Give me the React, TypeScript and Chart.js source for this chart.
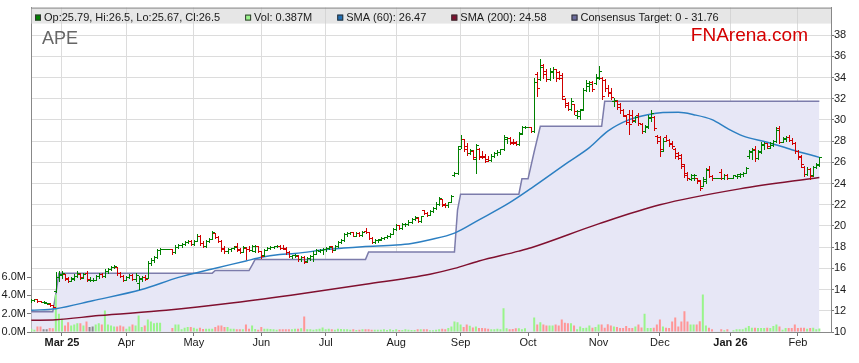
import React, { useEffect, useRef } from 'react';
import { Chart, registerables } from 'chart.js';

Chart.register(...registerables);

const FONT = '"Liberation Sans", Arial, Helvetica, sans-serif';

// x index = weekday number, 0 = Mon 17 Feb 2025 (weekday holidays kept as flat bars)
const MONTH_TICK_INDEX = [10, 31, 53, 75, 96, 119, 140, 162, 185, 205, 228, 250];
const MONTH_TICK_LABELS = ['Mar 25', 'Apr', 'May', 'Jun', 'Jul', 'Aug', 'Sep', 'Oct', 'Nov', 'Dec', 'Jan 26', 'Feb'];
const PRICE_TICKS = [10, 12, 14, 16, 18, 20, 22, 24, 26, 28, 30, 32, 34, 36, 38];
const VOLUME_TICKS = [0, 2, 4, 6];

// [open, high, low, close]
const PRICE_OHLC: [number, number, number, number][] = [
  [12.9, 13.1, 12.85, 13.0], [13.0, 13.15, 12.95, 13.1], [13.1, 13.1, 12.85, 12.9], [12.9, 12.95, 12.8, 12.85], [12.8, 12.9, 12.7, 12.8],
  [12.7, 12.75, 12.6, 12.7], [12.65, 12.7, 12.45, 12.5], [12.5, 12.55, 12.35, 12.4], [13.9, 15.7, 13.8, 15.2], [15.2, 15.75, 14.85, 15.5],
  [15.4, 15.8, 15.1, 15.6], [15.45, 15.5, 14.9, 15.0], [15.1, 15.15, 14.7, 14.8], [14.85, 15.2, 14.8, 15.1], [15.0, 15.45, 14.9, 15.3],
  [15.3, 15.75, 15.2, 15.6], [15.5, 15.55, 15.0, 15.15], [15.1, 15.6, 15.05, 15.5], [15.6, 15.8, 14.85, 15.0], [14.95, 15.2, 14.8, 14.95],
  [14.95, 15.1, 14.85, 14.95], [14.95, 15.4, 14.9, 15.3], [15.3, 15.6, 15.1, 15.5], [15.5, 15.55, 15.15, 15.25], [15.25, 15.9, 15.2, 15.8],
  [15.8, 16.05, 15.6, 15.9], [15.9, 16.2, 15.85, 16.1], [16.1, 16.3, 16.0, 16.2], [16.1, 16.15, 15.4, 15.6], [15.6, 15.7, 15.2, 15.3],
  [15.3, 15.35, 14.85, 14.95], [14.95, 15.3, 14.9, 15.2], [15.2, 15.5, 15.1, 15.4], [15.4, 15.45, 14.9, 15.0], [15.0, 15.55, 14.8, 15.4],
  [14.6, 15.25, 14.05, 15.1], [15.0, 15.3, 14.85, 15.2], [15.2, 15.35, 14.9, 15.0], [15.1, 16.7, 15.05, 16.5], [16.5, 17.0, 16.3, 16.8],
  [16.8, 17.2, 16.6, 17.1], [17.1, 17.8, 17.0, 17.7], [17.7, 17.95, 17.4, 17.8], [17.8, 17.8, 17.8, 17.8], [17.8, 17.8, 17.8, 17.8],
  [17.8, 17.8, 17.8, 17.8], [17.8, 17.85, 17.4, 17.5], [17.5, 18.2, 17.45, 18.0], [18.0, 18.3, 17.9, 18.2], [18.2, 18.4, 18.0, 18.3],
  [18.3, 18.55, 18.2, 18.5], [18.5, 18.65, 18.35, 18.55], [18.6, 18.65, 18.2, 18.3], [18.3, 18.7, 18.25, 18.6], [18.6, 19.2, 18.55, 19.1],
  [19.1, 19.15, 18.2, 18.4], [18.4, 18.6, 18.0, 18.1], [18.1, 18.7, 18.0, 18.6], [18.6, 18.9, 18.5, 18.8], [18.8, 19.5, 18.75, 19.4],
  [19.3, 19.35, 18.85, 18.95], [19.0, 19.1, 18.5, 18.6], [18.6, 18.65, 17.6, 17.8], [17.9, 18.1, 17.45, 17.6], [17.6, 17.9, 17.45, 17.8],
  [17.8, 17.95, 17.6, 17.9], [17.9, 18.1, 17.8, 18.0], [18.1, 18.35, 17.6, 17.7], [17.8, 17.9, 17.45, 17.55], [17.55, 18.1, 17.5, 18.0],
  [17.95, 18.0, 16.85, 17.85], [17.85, 18.1, 17.6, 17.7], [17.7, 18.2, 17.6, 18.1], [17.6, 18.25, 17.5, 18.15], [18.1, 18.15, 17.5, 17.6],
  [17.6, 17.65, 17.0, 17.2], [17.3, 17.85, 17.2, 17.75], [17.75, 18.0, 17.7, 17.9], [17.9, 18.1, 17.8, 18.0], [18.0, 18.15, 17.9, 18.1],
  [18.1, 18.25, 18.0, 18.15], [18.1, 18.2, 17.8, 17.9], [17.95, 18.25, 17.8, 17.85], [17.9, 18.05, 17.4, 17.55], [17.55, 17.6, 17.1, 17.2],
  [17.2, 17.3, 17.0, 17.25], [17.25, 17.35, 17.1, 17.3], [17.2, 17.25, 16.7, 16.9], [16.9, 17.2, 16.7, 17.1], [17.1, 17.15, 16.5, 16.65],
  [16.7, 17.1, 16.65, 17.0], [17.0, 17.3, 16.8, 17.2], [17.2, 17.6, 16.7, 17.4], [17.4, 17.8, 17.35, 17.7], [17.6, 17.8, 17.5, 17.75],
  [17.7, 17.9, 17.4, 17.8], [17.8, 18.0, 17.6, 17.95], [17.95, 18.1, 17.8, 18.05], [18.1, 18.15, 17.55, 17.75], [17.75, 18.2, 17.7, 18.1],
  [18.1, 18.6, 18.05, 18.5], [18.5, 18.8, 18.4, 18.7], [18.7, 19.3, 18.6, 19.2], [19.2, 19.45, 19.1, 19.35], [19.3, 19.45, 19.2, 19.4],
  [19.4, 19.45, 19.05, 19.1], [19.1, 19.45, 19.05, 19.35], [19.35, 19.45, 19.05, 19.15], [19.15, 19.55, 19.1, 19.4], [19.5, 19.8, 19.35, 19.45],
  [19.4, 19.45, 18.8, 18.9], [18.9, 18.95, 18.35, 18.45], [18.45, 18.75, 18.4, 18.7], [18.7, 18.8, 18.5, 18.75], [18.7, 19.0, 18.65, 18.9],
  [18.9, 19.0, 18.8, 18.95], [18.95, 19.15, 18.85, 19.1], [19.1, 19.3, 19.0, 19.25], [19.25, 19.8, 19.2, 19.7], [19.7, 20.15, 19.6, 20.05],
  [20.05, 20.1, 19.7, 19.8], [19.8, 20.25, 19.75, 20.15], [20.15, 20.3, 20.0, 20.2], [20.2, 20.55, 20.1, 20.4], [20.4, 20.75, 20.3, 20.7],
  [20.7, 20.9, 20.6, 20.85], [20.8, 20.85, 20.35, 20.45], [20.45, 20.95, 20.4, 20.9], [21.5, 21.55, 21.1, 21.2], [21.2, 21.3, 20.95, 21.05],
  [21.05, 21.5, 21.0, 21.4], [21.4, 21.8, 21.3, 21.7], [21.7, 22.25, 21.6, 22.1], [22.1, 22.7, 22.0, 22.6], [22.5, 22.55, 21.9, 22.0],
  [22.1, 22.2, 21.8, 21.95], [21.95, 22.3, 21.8, 22.25], [22.3, 22.9, 22.3, 22.85], [24.8, 25.1, 24.7, 25.0], [25.0, 27.5, 24.9, 27.3],
  [27.5, 28.55, 27.4, 28.2], [28.2, 28.25, 27.1, 27.3], [27.5, 27.8, 26.7, 26.9], [26.9, 27.3, 26.8, 27.2], [27.1, 27.15, 26.35, 26.5],
  [26.3, 27.75, 25.0, 27.6], [27.3, 27.35, 26.3, 26.5], [26.6, 27.1, 26.4, 26.5], [26.6, 26.8, 26.05, 26.15], [26.3, 26.6, 26.1, 26.2],
  [26.2, 26.8, 26.1, 26.6], [26.6, 27.0, 26.5, 26.9], [26.9, 27.2, 26.65, 27.0], [27.0, 27.3, 26.8, 27.25], [27.3, 28.55, 27.2, 28.4],
  [28.2, 28.4, 27.8, 28.3], [28.3, 28.35, 27.75, 27.85], [27.95, 28.2, 27.75, 27.85], [27.9, 28.05, 27.6, 27.7], [27.7, 28.85, 27.65, 28.7],
  [28.8, 29.4, 28.7, 29.3], [29.3, 29.4, 29.25, 29.35], [29.35, 29.35, 29.35, 29.35], [29.35, 29.35, 28.9, 29.0], [29.0, 34.0, 28.85, 33.6],
  [34.3, 34.5, 32.3, 33.0], [33.9, 35.75, 33.8, 35.0], [35.2, 35.25, 34.0, 34.3], [34.6, 34.8, 33.7, 33.9], [33.9, 34.9, 33.8, 34.6],
  [34.5, 34.95, 34.0, 34.8], [34.8, 34.85, 33.7, 34.0], [34.5, 34.6, 33.85, 34.0], [34.2, 34.45, 31.95, 32.3], [32.0, 32.05, 31.2, 31.4],
  [31.6, 31.7, 30.9, 31.0], [31.0, 32.1, 30.95, 31.8], [31.5, 31.55, 30.55, 30.8], [30.5, 30.95, 30.2, 30.8], [30.4, 31.0, 30.1, 30.9],
  [31.0, 33.05, 30.9, 32.8], [32.8, 33.8, 32.7, 33.5], [33.2, 33.7, 32.7, 33.4], [33.6, 33.65, 32.7, 32.9], [33.5, 34.3, 33.4, 34.1],
  [34.0, 35.05, 33.9, 34.6], [34.0, 34.05, 32.0, 32.3], [33.8, 33.9, 32.7, 33.0], [33.0, 33.3, 32.3, 32.5], [32.6, 33.0, 32.0, 32.2],
  [31.8, 32.1, 31.35, 31.9], [31.8, 31.85, 31.0, 31.2], [31.5, 31.6, 30.7, 30.9], [30.9, 31.0, 30.4, 30.5], [30.4, 30.45, 29.6, 29.8],
  [30.6, 30.9, 28.7, 29.6], [30.5, 30.9, 29.8, 30.0], [29.9, 30.4, 29.8, 30.3], [30.5, 30.7, 29.5, 29.7], [29.6, 29.7, 28.8, 29.0],
  [29.0, 29.5, 28.9, 29.4], [29.3, 30.5, 29.2, 30.3], [30.2, 30.95, 29.9, 30.7], [30.3, 30.35, 29.1, 29.2], [28.5, 28.55, 27.85, 28.0],
  [28.4, 28.5, 26.6, 27.3], [27.1, 28.3, 27.05, 28.0], [28.4, 28.6, 28.0, 28.1], [28.1, 28.2, 27.55, 27.7], [27.8, 28.0, 27.4, 27.5],
  [27.3, 27.4, 26.45, 26.6], [26.9, 26.95, 26.3, 26.4], [26.7, 26.8, 25.5, 25.7], [25.8, 25.85, 24.6, 24.8], [25.0, 25.1, 24.3, 24.5],
  [24.4, 24.9, 24.3, 24.8], [24.5, 24.9, 24.3, 24.8], [24.5, 24.55, 24.05, 24.2], [24.3, 24.35, 23.37, 23.6], [23.8, 24.6, 23.75, 24.4],
  [24.2, 25.5, 24.1, 25.3], [25.4, 25.7, 24.6, 24.7], [24.7, 24.8, 24.3, 24.5], [24.5, 24.5, 24.5, 24.5], [24.5, 24.5, 24.5, 24.5],
  [25.1, 25.4, 24.45, 24.55], [24.5, 24.9, 24.45, 24.8], [24.8, 24.9, 24.45, 24.55], [24.55, 24.55, 24.55, 24.55], [24.55, 24.85, 24.5, 24.8],
  [24.7, 24.95, 24.55, 24.9], [24.7, 25.0, 24.6, 24.9], [24.9, 25.1, 24.7, 25.0], [25.0, 25.55, 25.0, 25.45], [26.6, 27.2, 26.45, 27.1],
  [27.0, 27.4, 26.3, 27.2], [27.3, 27.5, 26.1, 26.4], [26.4, 27.2, 26.3, 27.1], [27.0, 27.9, 26.9, 27.7], [27.6, 27.9, 27.3, 27.8],
  [27.8, 27.85, 27.4, 27.5], [27.4, 27.9, 27.4, 27.8], [27.6, 28.1, 27.5, 28.0], [28.0, 29.3, 27.9, 29.1], [29.2, 29.4, 27.8, 27.95],
  [27.95, 28.4, 27.9, 28.3], [28.2, 28.5, 28.0, 28.4], [28.4, 28.6, 28.0, 28.1], [28.1, 28.3, 27.7, 27.8], [27.8, 27.9, 26.9, 27.1],
  [27.1, 27.2, 26.3, 26.5], [26.6, 26.7, 25.6, 25.8], [25.6, 25.7, 24.75, 24.9], [24.9, 25.6, 24.8, 25.4], [25.4, 25.5, 24.45, 24.7],
  [24.8, 25.7, 24.7, 25.6], [25.6, 25.9, 25.5, 25.8], [25.79, 26.5, 25.67, 26.5],
];

// daily volume, millions
const VOLUME_M = [
  0.36, 0.25, 0.6, 0.6, 0.3, 0.3, 0.43, 0.4, 4.1, 2.0,
  1.45, 0.72, 1.08, 0.72, 0.83, 0.97, 0.97, 0.72, 1.15, 0.54,
  0.6, 0.83, 0.97, 0.83, 2.34, 0.83, 0.72, 0.61, 0.61, 0.72,
  0.61, 0.36, 0.61, 0.83, 0.72, 1.8, 0.54, 0.72, 1.37, 1.15,
  0.97, 1.0, 1.0, 0, 0, 0, 0.43, 0.83, 0.83, 0.3,
  0.47, 0.54, 0.54, 0.47, 0.36, 0.47, 0.32, 0.36, 0.36, 0.36,
  0.54, 0.72, 0.72, 0.54, 0.54, 0.36, 0.36, 0.29, 0.29, 0.29,
  0.83, 0.36, 0.72, 0.32, 0.25, 0.54, 0.36, 0.36, 0.32, 0.29,
  0.25, 0.29, 0.29, 0.29, 0.3, 0.3, 0.35, 0.36, 0.4, 1.7,
  0.3, 0.3, 0.25, 0.3, 0.35, 0.5, 0.3, 0.35, 0.3, 0.25,
  0.36, 0.32, 0.29, 0.3, 0.25, 0.29, 0.22, 0.25, 0.29, 0.29,
  0.29, 0.25, 0.25, 0.25, 0.25, 0.29, 0.22, 0.29, 0.22, 0.29,
  0.22, 0.22, 0.29, 0.25, 0.22, 0.22, 0.29, 0.29, 0.29, 0.29,
  0.18, 0.18, 0.25, 0.29, 0.36, 0.29, 0.43, 0.6, 1.15, 1.08,
  0.83, 0.54, 0.83, 0.68, 0.5, 0.6, 0.43, 0.43, 0.4, 0.36,
  0.29, 0.29, 0.36, 0.29, 2.6, 0.4, 0.29, 0.32, 0.4, 0.4,
  0.29, 0.4, 0, 0, 1.6, 0.83, 1.08, 0.83, 0.72, 0.72,
  0.72, 0.83, 0.72, 1.37, 1.0, 0.97, 0.97, 0.72, 0.29, 0.6,
  0.43, 0.47, 0.72, 0.47, 0.54, 0.83, 0.83, 0.47, 0.86, 0.72,
  0.6, 0.54, 0.43, 0.43, 0.65, 0.43, 0.43, 0.6, 0.83, 0.5,
  2.0, 0.43, 0.43, 0.47, 0.83, 1.37, 0.6, 0.47, 0.43, 1.15,
  1.6, 0.6, 1.15, 2.27, 1.15, 0.83, 0.83, 0.83, 1.19, 4.1,
  0.72, 0.47, 0.29, 0, 0, 0.29, 0.18, 0.29, 0, 0.18,
  0.29, 0.29, 0.29, 0.47, 0.65, 0.47, 0.47, 0.43, 0.43, 0.43,
  0.47, 0.43, 0.65, 0.83, 0.6, 0.25, 0.43, 0.43, 0.43, 0.83,
  0.43, 0.47, 0.47, 0.36, 0.43, 0.47, 0.29, 0.387,
];

const SMA60_IDX = [0, 8, 20, 36, 48, 59, 70, 75, 81, 86, 97, 108, 119, 124, 130, 138, 146, 156, 163, 175, 182, 188, 195, 201, 206, 211, 216, 222, 227, 232, 240, 248, 257];
const SMA60_VAL = [12.05, 12.2, 12.95, 14.0, 15.15, 15.95, 16.7, 17.05, 17.3, 17.4, 17.8, 18.05, 18.2, 18.35, 18.7, 19.33, 20.58, 22.2, 23.55, 26.0, 27.4, 28.95, 30.03, 30.5, 30.7, 30.72, 30.5, 30.03, 29.2, 28.5, 27.9, 27.2, 26.47];

const SMA200_IDX = [0, 8, 22, 44, 66, 88, 109, 130, 138, 146, 159, 163, 185, 205, 231, 257];
const SMA200_VAL = [11.1, 11.15, 11.55, 12.05, 12.75, 13.6, 14.5, 15.45, 16.0, 16.7, 17.63, 17.95, 20.2, 22.0, 23.5, 24.58];

const TARGET_IDX = [0, 7, 8, 9, 59, 60, 71, 72, 73, 109, 110, 138, 139, 140, 159, 160, 162, 164, 166, 186, 187, 257];
const TARGET_VAL = [11.9, 11.9, 13.6, 15.55, 15.55, 15.8, 15.8, 16.3, 16.85, 16.85, 17.55, 17.55, 21.5, 23.0, 23.0, 24.45, 24.45, 27.0, 29.4, 29.4, 31.76, 31.76];
const TARGET_LOW = 0;

const UP = '#008000';
const DOWN = '#d00000';
const VOL_UP = '#99f58a';
const VOL_DOWN = '#ff9696';
const VOL_FLAT = '#8a8a8a';

const ohlcPlugin = {
  id: 'ohlcBars',
  afterDatasetsDraw(chart: any) {
    const xs = chart.scales.x;
    const ys = chart.scales.y;
    const ctx = chart.ctx;
    const a = chart.chartArea;
    ctx.save();
    ctx.beginPath();
    ctx.rect(a.left, a.top, a.right - a.left, a.bottom - a.top);
    ctx.clip();
    PRICE_OHLC.forEach(([o, h, l, c], i) => {
      const cx = Math.round(xs.getPixelForValue(i));
      const yh = Math.round(ys.getPixelForValue(h));
      const yl = Math.round(ys.getPixelForValue(l));
      const yo = Math.round(ys.getPixelForValue(o));
      const yc = Math.round(ys.getPixelForValue(c));
      ctx.fillStyle = c >= o ? UP : DOWN;
      ctx.fillRect(cx, yh, 1, Math.max(1, yl - yh + 1));
      ctx.fillRect(cx - 2, yo, 2, 1);
      ctx.fillRect(cx + 1, yc, 2, 1);
    });
    ctx.restore();
  },
};

const headerPlugin = {
  id: 'header',
  beforeDatasetsDraw(chart: any) {
    const ctx = chart.ctx;
    const a = chart.chartArea;
    ctx.save();
    ctx.fillStyle = 'rgba(205,205,205,0.5)';
    ctx.fillRect(a.left, a.top, a.right - a.left, 16);
    ctx.fillStyle = '#888';
    ctx.fillRect(a.left, a.top, a.right - a.left, 1);
    ctx.restore();
  },
  afterDatasetsDraw(chart: any) {
    const ctx = chart.ctx;
    const a = chart.chartArea;
    const [o, h, l, c] = PRICE_OHLC[PRICE_OHLC.length - 1];
    const items = [
      { color: UP, text: `Op:${o}, Hi:${h}, Lo:${l}, Cl:${c}` },
      { color: VOL_UP, text: `Vol: ${VOLUME_M[VOLUME_M.length - 1]}M` },
      { color: '#1f6fb5', text: `SMA (60): ${SMA60_VAL[SMA60_VAL.length - 1]}` },
      { color: '#80102f', text: `SMA (200): ${SMA200_VAL[SMA200_VAL.length - 1]}` },
      { color: '#6b6b9e', text: `Consensus Target: ${TARGET_LOW} - ${TARGET_VAL[TARGET_VAL.length - 1]}` },
    ];
    ctx.save();
    ctx.font = `11px ${FONT}`;
    ctx.textBaseline = 'alphabetic';
    ctx.textAlign = 'left';
    let x = a.left + 4;
    items.forEach((it) => {
      ctx.fillStyle = it.color;
      ctx.fillRect(x, a.top + 7, 6, 6);
      ctx.strokeStyle = '#333';
      ctx.lineWidth = 1;
      ctx.strokeRect(x + 0.5, a.top + 7.5, 5, 5);
      ctx.fillStyle = '#1a1a1a';
      ctx.fillText(it.text, x + 9, a.top + 13);
      x = x + 9 + ctx.measureText(it.text).width + 25;
    });
    ctx.font = `18px ${FONT}`;
    ctx.fillStyle = '#666';
    ctx.fillText('APE', a.left + 11, a.top + 36);
    ctx.font = `19px ${FONT}`;
    ctx.fillStyle = '#d40000';
    ctx.textAlign = 'right';
    ctx.fillText('FNArena.com', 808, a.top + 33.5);
    ctx.restore();
  },
};

export default function App() {
  const ref = useRef<HTMLCanvasElement>(null);
  useEffect(() => {
    const canvas = ref.current;
    if (!canvas) return;
    const volColors = PRICE_OHLC.map(([o, , , c]) => (c > o ? VOL_UP : c < o ? VOL_DOWN : VOL_FLAT));
    const boldTicks = new Set(MONTH_TICK_INDEX.filter((_, k) => MONTH_TICK_LABELS[k].includes(' ')));
    const chart = new Chart(canvas, {
      type: 'line',
      data: {
        datasets: [
          {
            type: 'line',
            label: 'Consensus Target',
            data: TARGET_IDX.map((x, k) => ({ x, y: TARGET_VAL[k] })),
            yAxisID: 'y',
            borderColor: '#7c7cab',
            borderWidth: 1.5,
            backgroundColor: '#e7e7f6',
            fill: 'start',
            pointRadius: 0,
            tension: 0,
            order: 10,
          },
          {
            type: 'bar',
            label: 'Vol',
            data: VOLUME_M.map((v, i) => ({ x: i, y: v })),
            yAxisID: 'yv',
            backgroundColor: volColors,
            barThickness: 2,
            inflateAmount: 0,
            borderWidth: 0,
            order: 8,
          },
          {
            type: 'line',
            label: 'SMA (200)',
            data: SMA200_IDX.map((x, k) => ({ x, y: SMA200_VAL[k] })),
            yAxisID: 'y',
            borderColor: '#80102f',
            borderWidth: 1.5,
            pointRadius: 0,
            cubicInterpolationMode: 'monotone',
            fill: false,
            order: 6,
          },
          {
            type: 'line',
            label: 'SMA (60)',
            data: SMA60_IDX.map((x, k) => ({ x, y: SMA60_VAL[k] })),
            yAxisID: 'y',
            borderColor: '#2c7fc2',
            borderWidth: 1.5,
            pointRadius: 0,
            cubicInterpolationMode: 'monotone',
            fill: false,
            order: 5,
          },
        ] as any,
      },
      options: {
        responsive: false,
        maintainAspectRatio: false,
        animation: false,
        devicePixelRatio: 1,
        layout: { padding: { top: 3, left: 0, right: 0, bottom: 0 } },
        plugins: { legend: { display: false }, tooltip: { enabled: false }, title: { display: false } },
        scales: {
          x: {
            type: 'linear',
            min: -0.1,
            max: 260.8,
            offset: false,
            afterFit: (s: any) => { s.height = 31; },
            afterBuildTicks: (s: any) => { s.ticks = MONTH_TICK_INDEX.map((v) => ({ value: v })); },
            ticks: {
              autoSkip: false,
              maxRotation: 0,
              padding: 0,
              color: '#1a1a1a',
              font: (c: any) => ({ family: FONT, size: 11, weight: boldTicks.has(c.tick?.value) ? 'bold' : 'normal' }),
              callback: (v: any) => {
                const k = MONTH_TICK_INDEX.indexOf(Number(v));
                return k >= 0 ? MONTH_TICK_LABELS[k] : '';
              },
            },
            grid: { color: '#dcdcdc', tickColor: '#777', tickLength: 4, offset: false },
            border: { color: '#888' },
          },
          y: {
            type: 'linear',
            position: 'right',
            min: 10,
            max: 40.6,
            beginAtZero: false,
            afterFit: (s: any) => { s.width = 28; },
            afterBuildTicks: (s: any) => { s.ticks = PRICE_TICKS.map((v) => ({ value: v })); },
            ticks: { padding: 0, color: '#1a1a1a', font: { family: FONT, size: 11 }, callback: (v: any) => String(v) },
            grid: { color: '#dcdcdc', tickColor: '#777', tickLength: 3 },
            border: { color: '#888' },
          },
          yv: {
            type: 'linear',
            position: 'left',
            min: 0,
            max: 35.5,
            afterFit: (s: any) => { s.width = 31; },
            afterBuildTicks: (s: any) => { s.ticks = VOLUME_TICKS.map((v) => ({ value: v })); },
            ticks: { padding: 1, color: '#1a1a1a', font: { family: FONT, size: 11 }, callback: (v: any) => `${Number(v).toFixed(1)}M` },
            grid: { drawOnChartArea: false, tickColor: '#777', tickLength: 4 },
            border: { color: '#888' },
          },
        },
      } as any,
      plugins: [headerPlugin, ohlcPlugin],
    });
    return () => chart.destroy();
  }, []);
  return (
    <div style={{ position: 'fixed', left: 0, top: 0, width: 859, height: 363, background: '#fff' }}>
      <canvas ref={ref} width={859} height={363} style={{ display: 'block', width: 859, height: 363 }} />
    </div>
  );
}
